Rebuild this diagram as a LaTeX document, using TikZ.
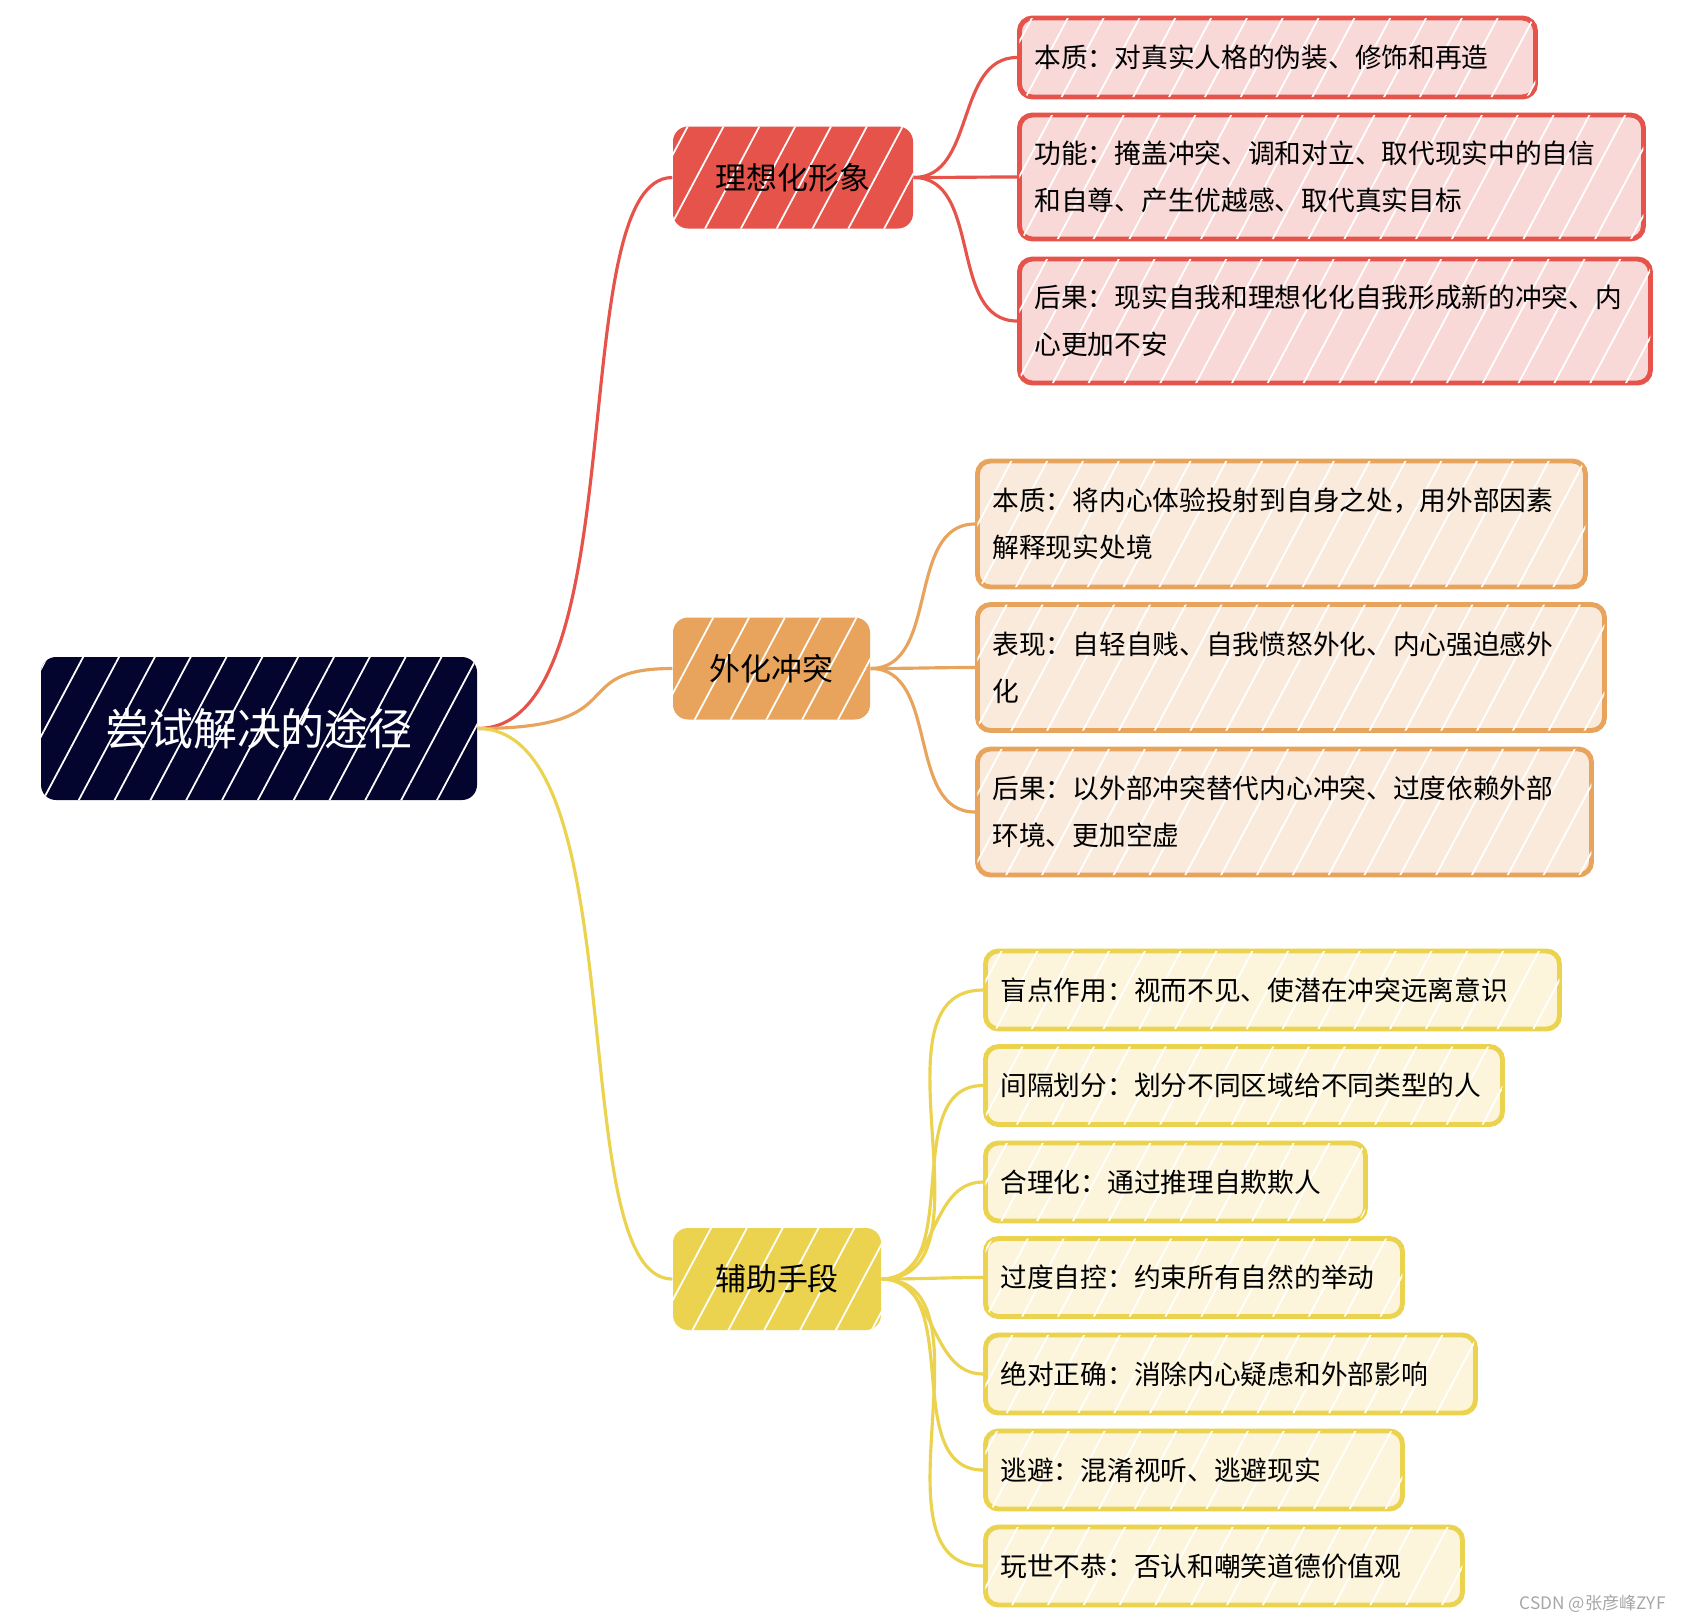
\documentclass[tikz,border=0pt]{standalone}
\usepackage{fontspec}
\setmainfont{Noto Sans CJK SC}
\usetikzlibrary{patterns.meta}

\definecolor{rootblue}{HTML}{03052E}
\definecolor{ideared}{HTML}{E5534B}
\definecolor{idealight}{HTML}{F8D9D8}
\definecolor{extorange}{HTML}{E8A45C}
\definecolor{extlight}{HTML}{FAEADB}
\definecolor{auxyellow}{HTML}{EBD350}
\definecolor{auxlight}{HTML}{FCF5DB}

\begin{document}
\begin{tikzpicture}[
    hatch/.style={postaction={pattern={Lines[angle=62,distance=9pt,line width=0.5pt]}, pattern color=white}},
    rootbox/.style={fill=rootblue, rounded corners=0.15cm, minimum width=4.36cm, minimum height=1.43cm, text=white, font=\fontsize{12.5}{15}\selectfont, hatch},
    branchbox/.style={rounded corners=0.15cm, minimum height=1.02cm, font=\fontsize{8.8}{11}\selectfont, hatch},
    leafbox/.style={draw, line width=1.4pt, rounded corners=0.13cm, anchor=west, inner xsep=0.15cm, align=left, font=\fontsize{7.6}{13.4}\selectfont, hatch},
    redleaf/.style={leafbox, draw=ideared, fill=idealight, minimum height=1.24cm},
    orangeleaf/.style={leafbox, draw=extorange, fill=extlight, minimum height=1.26cm},
    yellowleaf/.style={leafbox, draw=auxyellow, fill=auxlight, minimum height=0.78cm},
    link/.style={line width=0.9pt},
    rootlink/.style={link, out=0, in=180, out distance=1.6cm, in distance=1.1cm}
]
    \useasboundingbox (0,0) rectangle (16.89,-16.22);

    % Root
    \node[rootbox] (root) at (2.59,-7.285) {尝试解决的途径};

    % Branches
    \node[branchbox, fill=ideared, minimum width=2.40cm] (ideal) at (7.93,-1.775) {理想化形象};
    \node[branchbox, fill=extorange, minimum width=1.97cm] (extern) at (7.715,-6.685) {外化冲突};
    \node[branchbox, fill=auxyellow, minimum width=2.08cm] (aux) at (7.77,-12.79) {辅助手段};

    % Idealized image - leaves
    \node[redleaf, minimum height=0.79cm, text width=4.86cm] (idealA) at (10.17,-0.575) {本质：对真实人格的伪装、修饰和再造};
    \node[redleaf, text width=5.94cm] (idealB) at (10.17,-1.77) {功能：掩盖冲突、调和对立、取代现实中的自信\\和自尊、产生优越感、取代真实目标};
    \node[redleaf, text width=6.01cm] (idealC) at (10.17,-3.21) {后果：现实自我和理想化化自我形成新的冲突、内\\心更加不安};

    % Externalization - leaves
    \node[orangeleaf, text width=5.78cm] (externA) at (9.75,-5.24) {本质：将内心体验投射到自身之处，用外部因素\\解释现实处境};
    \node[orangeleaf, text width=5.97cm] (externB) at (9.75,-6.675) {表现：自轻自贱、自我愤怒外化、内心强迫感外\\化};
    \node[orangeleaf, text width=5.84cm] (externC) at (9.75,-8.12) {后果：以外部冲突替代内心冲突、过度依赖外部\\环境、更加空虚};

    % Auxiliary means - leaves
    \node[yellowleaf, text width=5.44cm] (auxA) at (9.83,-9.90) {盲点作用：视而不见、使潜在冲突远离意识};
    \node[yellowleaf, text width=4.87cm] (auxB) at (9.83,-10.855) {间隔划分：划分不同区域给不同类型的人};
    \node[yellowleaf, text width=3.50cm] (auxC) at (9.83,-11.82) {合理化：通过推理自欺欺人};
    \node[yellowleaf, text width=3.87cm] (auxD) at (9.83,-12.775) {过度自控：约束所有自然的举动};
    \node[yellowleaf, text width=4.60cm] (auxE) at (9.83,-13.74) {绝对正确：消除内心疑虑和外部影响};
    \node[yellowleaf, text width=3.87cm] (auxF) at (9.83,-14.70) {逃避：混淆视听、逃避现实};
    \node[yellowleaf, text width=4.47cm] (auxG) at (9.83,-15.66) {玩世不恭：否认和嘲笑道德价值观};

    % Connections
    \draw[rootlink, ideared] (root.east) to (ideal.west);
    \draw[rootlink, extorange] (root.east) to (extern.west);
    \draw[rootlink, auxyellow] (root.east) to (aux.west);

    \draw[link, ideared] (ideal.east) to[out=0, in=180] (idealA.west);
    \draw[link, ideared] (ideal.east) to[out=0, in=180] (idealB.west);
    \draw[link, ideared] (ideal.east) to[out=0, in=180] (idealC.west);

    \draw[link, extorange] (extern.east) to[out=0, in=180] (externA.west);
    \draw[link, extorange] (extern.east) to[out=0, in=180] (externB.west);
    \draw[link, extorange] (extern.east) to[out=0, in=180] (externC.west);

    \draw[link, auxyellow] (aux.east) to[out=0, in=180] (auxA.west);
    \draw[link, auxyellow] (aux.east) to[out=0, in=180] (auxB.west);
    \draw[link, auxyellow] (aux.east) to[out=0, in=180] (auxC.west);
    \draw[link, auxyellow] (aux.east) to[out=0, in=180] (auxD.west);
    \draw[link, auxyellow] (aux.east) to[out=0, in=180] (auxE.west);
    \draw[link, auxyellow] (aux.east) to[out=0, in=180] (auxF.west);
    \draw[link, auxyellow] (aux.east) to[out=0, in=180] (auxG.west);

    % Watermark
    \node[font=\fontsize{4.9}{5}\selectfont, text=gray!70, anchor=east] (mark) at (16.78,-16.04) {CSDN @张彦峰ZYF};
\end{tikzpicture}
\end{document}
